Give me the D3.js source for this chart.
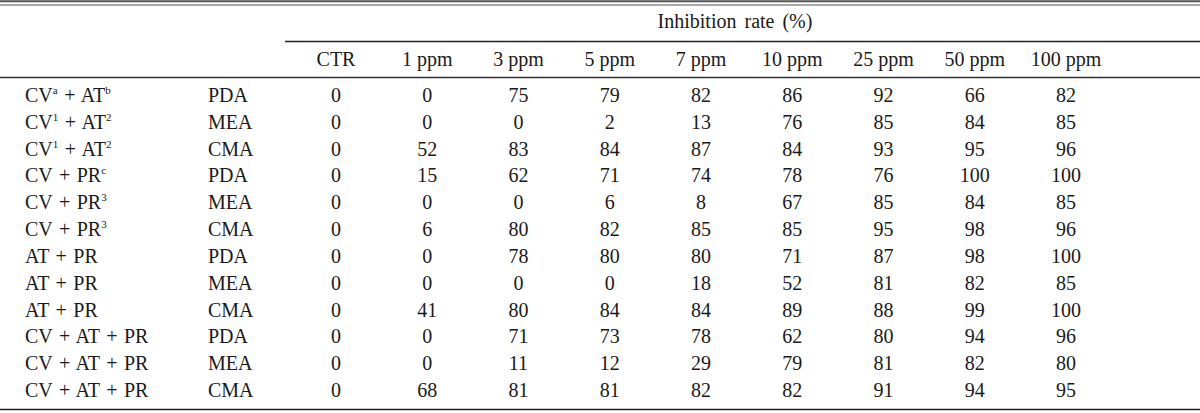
<!DOCTYPE html>
<html><head><meta charset="utf-8">
<script src="https://cdn.jsdelivr.net/npm/d3@7"></script>
<style>body{margin:0;background:#fff}svg{display:block}text{font-family:"Liberation Serif","Times New Roman",serif;fill:#1a1a1a}</style>
</head><body><svg id="c" width="1200" height="413"></svg>
<script>
const columns = ["CTR","1 ppm","3 ppm","5 ppm","7 ppm","10 ppm","25 ppm","50 ppm","100 ppm"];
const groupTitle = "Inhibition rate (%)";
// row labels as [text, superscript] parts
const combos = [
  [["CV","a"],[" + AT","b"]],
  [["CV","1"],[" + AT","2"]],
  [["CV","1"],[" + AT","2"]],
  [["CV + PR","c"]],
  [["CV + PR","3"]],
  [["CV + PR","3"]],
  [["AT + PR",""]],
  [["AT + PR",""]],
  [["AT + PR",""]],
  [["CV + AT + PR",""]],
  [["CV + AT + PR",""]],
  [["CV + AT + PR",""]]
];
const media = ["PDA","MEA","CMA","PDA","MEA","CMA","PDA","MEA","CMA","PDA","MEA","CMA"];
const values = [
  [0,0,75,79,82,86,92,66,82],
  [0,0,0,2,13,76,85,84,85],
  [0,52,83,84,87,84,93,95,96],
  [0,15,62,71,74,78,76,100,100],
  [0,0,0,6,8,67,85,84,85],
  [0,6,80,82,85,85,95,98,96],
  [0,0,78,80,80,71,87,98,100],
  [0,0,0,0,18,52,81,82,85],
  [0,41,80,84,84,89,88,99,100],
  [0,0,71,73,78,62,80,94,96],
  [0,0,11,12,29,79,81,82,80],
  [0,68,81,81,82,82,91,94,95]
];

const svg = d3.select("#c");
const fs = 20;
const x = d3.scalePoint().domain(columns).range([336, 1066]);
const y = d3.scalePoint().domain(d3.range(values.length)).range([102, 397]);

function hline(x1,x2,yy,w,col){
  svg.append("line").attr("x1",x1).attr("x2",x2).attr("y1",yy).attr("y2",yy)
    .attr("stroke",col).attr("stroke-width",w);
}
hline(0,1200,1.2,2,"#555");
hline(0,1200,5,1,"#555");
hline(285,1200,41.5,1.3,"#222");
hline(0,1200,77.5,1.3,"#333");
hline(0,1200,409.5,1.6,"#222");

svg.append("text").attr("x",735).attr("y",28).attr("text-anchor","middle")
  .style("font-size",fs+"px").style("word-spacing","3px").text(groupTitle);

svg.selectAll("text.col").data(columns).join("text").attr("class","col")
  .attr("x",d=>x(d)).attr("y",66).attr("text-anchor","middle")
  .style("font-size",fs+"px").text(d=>d);

const rows = svg.selectAll("g.row").data(values).join("g").attr("class","row")
  .attr("transform",(d,i)=>`translate(0,${y(i)})`);

rows.append("text").attr("x",25).style("font-size",fs+"px").style("word-spacing","1.5px").each(function(d,i){
  const t = d3.select(this);
  let shifted = false;
  combos[i].forEach(([base,sup])=>{
    t.append("tspan").attr("dy", shifted?8:0).text(base);
    shifted = false;
    if(sup){ t.append("tspan").attr("dy",-8).style("font-size","11px").text(sup); shifted = true; }
  });
});
rows.append("text").attr("x",208).style("font-size",fs+"px").text((d,i)=>media[i]);
rows.selectAll("text.v").data(d=>d).join("text").attr("class","v")
  .attr("x",(d,j)=>x(columns[j])).attr("text-anchor","middle")
  .style("font-size",fs+"px").text(d=>d);
</script></body></html>
